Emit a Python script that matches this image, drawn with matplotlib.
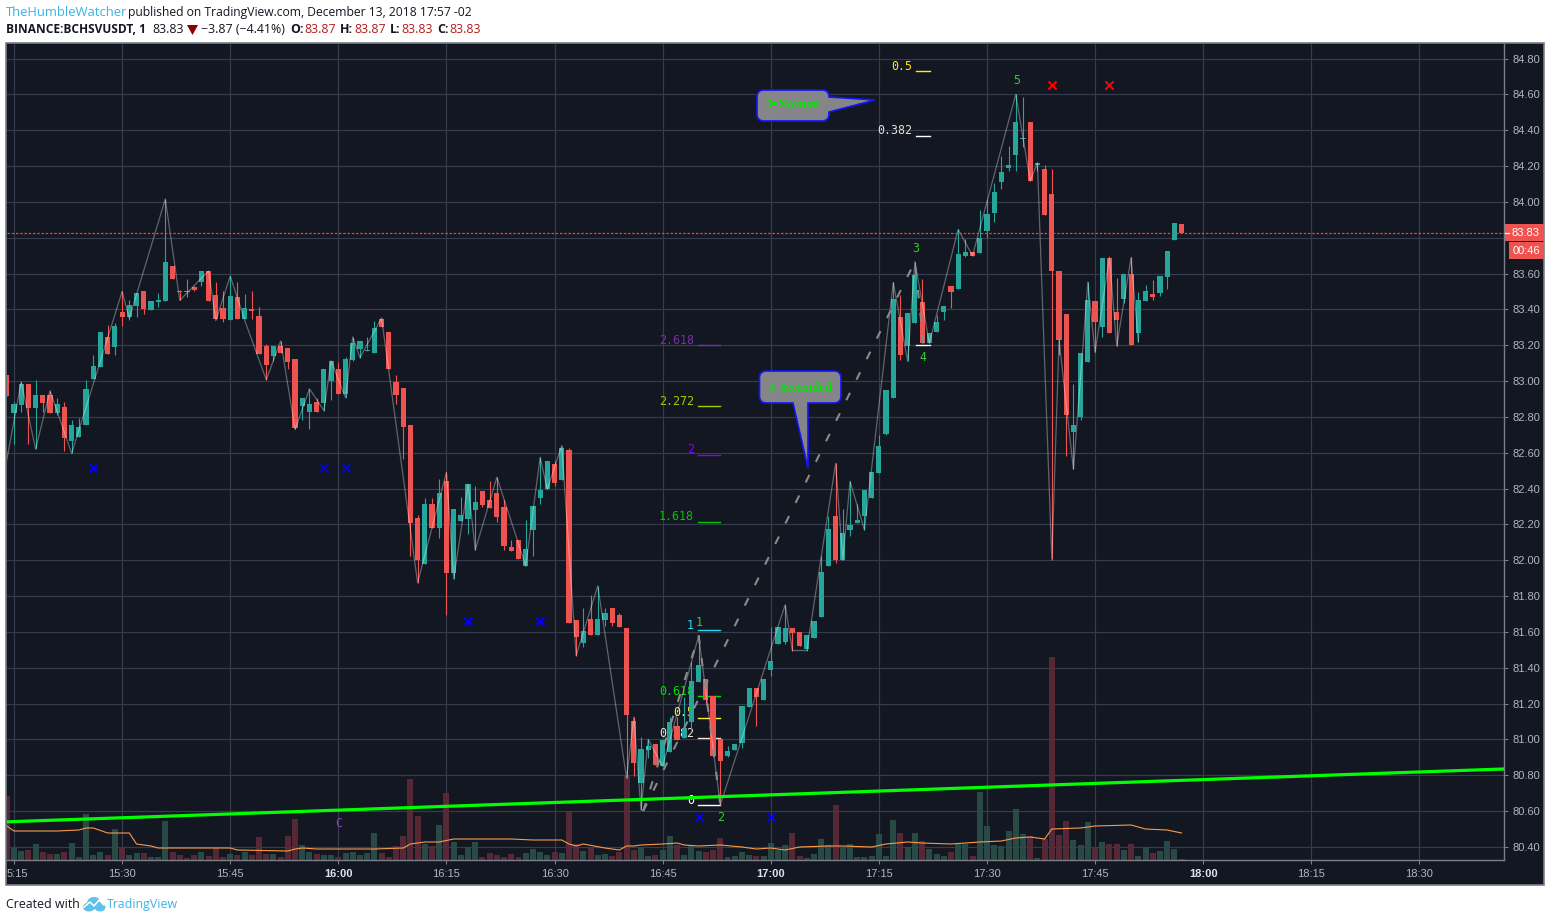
import matplotlib
matplotlib.use("Agg")
import matplotlib.pyplot as plt
from matplotlib.patches import Rectangle, PathPatch, Ellipse, Polygon
from matplotlib.path import Path
from matplotlib.lines import Line2D
from matplotlib.transforms import Affine2D, ScaledTranslation
import numpy as np

# ---------- data ----------
first_index = -1
opens = [83.035,82.824,82.868,82.985,82.85,82.92,82.92,82.824,82.857,82.663,82.69,82.752,83.013,83.08,83.246,83.19,83.385,83.357,83.42,83.5,83.396,83.44,83.446,83.642,83.50,83.50,83.525,83.55,83.615,83.48,83.41,83.34,83.47,83.346,83.40,83.363,83.196,83.14,83.196,83.185,83.124,82.863,82.83,82.885,82.88,83.0,83.07,82.93,83.12,83.18,83.168,83.157,83.346,83.274,82.996,82.96,82.752,82.235,81.98,82.313,82.18,82.44,81.93,82.218,82.23,82.28,82.385,82.335,82.374,82.296,82.074,82.113,81.968,82.168,82.346,82.396,82.535,82.446,82.613,81.668,81.54,81.674,81.58,81.668,81.735,81.696,81.624,81.102,80.757,80.94,80.974,80.852,80.93,81.074,81.007,81.096,81.32,81.335,81.24,81.0,80.907,80.94,80.98,81.18,81.285,81.218,81.385,81.535,81.546,81.624,81.602,81.507,81.568,81.685,81.968,82.246,82.0,82.17,82.207,82.246,82.346,82.485,82.707,82.907,83.357,83.196,83.324,83.44,83.21,83.274,83.385,83.53,83.513,83.70,83.718,83.713,83.84,83.94,84.113,84.19,84.263,84.352,84.446,84.205,84.185,84.046,83.613,83.374,82.713,82.80,83.107,83.446,83.30,83.685,83.385,83.457,83.60,83.27,83.446,83.485,83.49,83.58,83.785,83.874]
highs = [83.035,82.885,82.996,82.985,83.007,82.92,82.946,82.907,82.885,82.785,82.796,83.007,83.146,83.274,83.313,83.324,83.50,83.45,83.49,83.50,83.445,83.49,84.016,83.642,83.51,83.57,83.53,83.615,83.615,83.55,83.50,83.586,83.55,83.486,83.50,83.413,83.207,83.196,83.224,83.185,83.124,82.907,82.957,82.907,83.07,83.113,83.107,83.135,83.246,83.224,83.246,83.335,83.352,83.274,83.035,82.96,82.752,82.252,82.346,82.346,82.452,82.49,82.285,82.352,82.424,82.413,82.385,82.44,82.463,82.335,82.113,82.113,82.224,82.302,82.574,82.552,82.552,82.64,82.624,81.668,81.735,81.807,81.857,81.735,81.735,81.707,81.624,81.124,81.013,81.0,80.974,80.996,81.124,81.126,81.235,81.43,81.578,81.335,81.24,81.0,80.963,80.974,81.185,81.285,81.285,81.335,81.63,81.63,81.752,81.624,81.602,81.58,81.663,82.024,82.246,82.54,82.285,82.44,82.313,82.39,82.49,82.70,82.952,83.55,83.48,83.38,83.667,83.568,83.268,83.368,83.418,83.53,83.846,83.79,83.718,83.957,84.013,84.107,84.257,84.313,84.60,84.585,84.446,84.22,84.207,84.185,83.613,83.374,82.985,83.157,83.552,83.446,83.685,83.69,83.574,83.60,83.69,83.496,83.535,83.563,83.585,83.724,83.88,83.874]
lows = [82.915,82.646,82.83,82.646,82.62,82.83,82.824,82.81,82.607,82.596,82.69,82.752,83.013,83.08,83.152,83.146,83.307,83.34,83.36,83.374,83.396,83.415,83.446,83.57,83.45,83.47,83.505,83.53,83.448,83.345,83.33,83.34,83.346,83.346,83.346,83.152,83.007,83.113,83.157,83.07,82.73,82.785,82.73,82.83,82.835,82.896,82.93,82.907,83.113,83.13,83.168,83.157,83.30,83.068,82.87,82.563,82.024,81.874,81.98,82.18,82.124,81.696,81.896,82.218,82.146,82.057,82.296,82.29,82.213,82.057,82.052,82.007,81.968,82.024,82.313,82.396,82.413,82.446,81.652,81.468,81.518,81.58,81.58,81.635,81.635,81.63,80.783,80.796,80.607,80.896,80.857,80.852,80.93,80.996,81.007,81.05,81.32,81.19,80.907,80.635,80.90,80.94,80.952,81.18,81.074,81.218,81.352,81.535,81.53,81.496,81.524,81.496,81.568,81.685,81.968,81.985,82.0,82.135,82.207,82.17,82.346,82.485,82.70,82.907,83.118,83.11,83.324,83.21,83.21,83.274,83.34,83.407,83.513,83.69,83.70,83.713,83.796,83.885,84.07,84.174,84.174,84.307,84.118,84.17,83.924,82.005,83.146,82.58,82.507,82.78,83.107,83.16,83.246,83.268,83.194,83.435,83.20,83.22,83.446,83.452,83.474,83.513,83.785,83.824]
closes = [82.915,82.874,82.985,82.85,82.92,82.88,82.824,82.874,82.68,82.757,82.746,82.957,83.085,83.274,83.152,83.307,83.357,83.424,83.49,83.40,83.445,83.45,83.664,83.57,83.495,83.495,83.51,83.615,83.448,83.345,83.346,83.475,83.346,83.41,83.39,83.152,83.09,83.196,83.157,83.107,82.74,82.907,82.874,82.83,83.07,83.113,82.93,83.124,83.213,83.224,83.172,83.296,83.30,83.068,82.92,82.746,82.207,82.0,82.313,82.18,82.374,81.93,82.285,82.252,82.424,82.324,82.307,82.29,82.24,82.08,82.052,82.007,82.063,82.302,82.39,82.552,82.43,82.624,81.652,81.574,81.607,81.58,81.674,81.707,81.652,81.63,81.135,80.868,80.946,80.963,80.857,80.996,81.096,80.996,81.063,81.324,81.413,81.218,80.907,80.88,80.935,80.974,81.185,81.285,81.235,81.335,81.44,81.63,81.624,81.596,81.524,81.58,81.663,81.935,82.174,82.0,82.152,82.196,82.224,82.39,82.49,82.64,82.952,83.457,83.146,83.38,83.59,83.21,83.268,83.33,83.418,83.496,83.707,83.718,83.70,83.796,83.935,84.057,84.168,84.207,84.446,84.357,84.118,84.217,83.924,83.613,83.23,82.813,82.757,83.157,83.452,83.33,83.685,83.268,83.34,83.60,83.20,83.452,83.50,83.468,83.585,83.724,83.88,83.824]
volumes = [64,12,9,10,16,8,6,6,8,17,3,46,5,8,5,31,13,5,7,7,3,3,39,8,5,2,5,8,4,12,3,6,5,8,5,23,6,6,3,24,41,15,8,6,5,5,3,7,8,5,7,27,7,3,14,24,81,44,16,14,35,67,18,5,13,18,3,7,5,3,6,3,7,11,8,5,8,7,48,16,9,12,5,6,4,8,84,10,13,4,5,10,24,15,5,15,9,8,10,22,3,4,8,5,4,4,17,10,15,27,4,2,6,21,15,55,13,16,3,3,4,26,4,40,27,13,27,19,11,6,4,8,17,16,4,68,34,15,14,29,51,26,24,2,21,203,25,39,20,15,38,12,18,16,16,10,16,4,13,7,9,19,11,1]

vol_ma_x = [-1,0,6,9,10,11,13,16,17,19,20,30,31,38,39,40,42,50,54,55,57,59,61,63,69,72,75,76,77,78,79,82,84,85,86,87,90,92,93,95,98,101,103,105,107,109,113,115,119,121,124,126,130,132,134,137,139,141,143,144,148,150,155,157,160,162]
vol_ma_y = [34,29,29,30,32,32,27,27,16,14,12,12,10,9,11,12,11,11,12,16,18,18,21,21,21,20,20,20,16,14,16,12,10,14,14,15,16,17,15,14,15,13,11,12,10,13,14,14,13,16,18,17,16,17,18,19,22,23,21,31,32,34,35,31,30,27]

zigzag_x = [-1,1,3,5,8,15,16,21,23,27,28,30,32,35,37,39,41,43,44,46,47,48,51,56,60,61,63,64,67,71,73,74,76,78,81,85,86,87,88,90,95,98,107,108,110,114,115,116,118,122,124,125,127,131,133,139,141,142,144,145,147,149,150,152,153,155,156]
zigzag_y = [82.56,82.996,82.62,82.946,82.596,83.50,83.35,84.016,83.45,83.615,83.337,83.586,83.34,83.007,83.224,82.73,82.957,82.835,83.113,82.907,83.246,83.13,83.352,81.874,82.49,81.896,82.424,82.057,82.463,81.968,82.574,82.396,82.64,81.468,81.857,80.783,81.124,80.607,81.0,80.85,81.578,80.635,81.752,81.496,81.496,82.54,82.0,82.44,82.17,83.55,83.11,83.667,83.21,83.846,83.70,84.60,84.118,84.217,82.0,83.23,82.507,83.552,83.16,83.69,83.194,83.69,83.22]

wave_x = [87.3,95,98]
wave_y = [80.60,81.578,80.635]
wave3_x = [87.3,125,126.2]
wave3_y = [80.60,83.667,83.21]

blue_x = [11,43,46,63,73,95,105]
blue_y = [82.515,82.515,82.515,81.66,81.66,80.567,80.567]
red_x = [144,152]
red_y = [84.65,84.65]

wave_labels = ["1","2","3","4","5"]
wave_lab_x = [95.1,98.1,125.1,126.1,139.1]
wave_lab_y = [81.655,80.562,83.737,83.13,84.675]

fib_labels = ["0","0.382","0.5","0.618","1","1.618","2","2.272","2.618"]
fib_prices = [80.632,81.007,81.12,81.24,81.61,82.215,82.59,82.86,83.20]
fib_colors = ["#ffffff","#f0e8d0","#ffee33","#00e000","#22ddee","#00c800","#8a00f0","#9ad000","#7a30aa"]
fib2_labels = ["0.382","0.5"]
fib2_prices = [84.37,84.73]
fib2_colors = ["#e8e0d0","#ffee00"]
fib3_price = 83.20

trend_x = [-0.97,206.74]
trend_y = [80.54,80.835]
last_price = 83.828

price_ticks = [80.4,80.6,80.8,81.0,81.2,81.4,81.6,81.8,82.0,82.2,82.4,82.6,82.8,83.0,83.2,83.4,83.6,83.8,84.0,84.2,84.4,84.6,84.8]
hidden_price_label = 83.8   # covered by the last-price box in the picture
time_ticks = [0,15,30,45,60,75,90,105,120,135,150,165,180,195]
time_labels = ["5:15","15:30","15:45","16:00","16:15","16:30","16:45","17:00","17:15","17:30","17:45","18:00","18:15","18:30"]
bold_labels = ["16:00","17:00","18:00"]

# ---------- style ----------
BG = "#131722"; GRID = "#363c4e"; UP = "#26a69a"; DOWN = "#ef5350"
VUP = "#2b4c48"; VDN = "#5a2a37"; TICK = "#b2b5be"; EDGE = "#7c7f88"
W, H = 1551, 922
fig = plt.figure(figsize=(W/100, H/100), dpi=100, facecolor="white")
pxT = Affine2D().scale(1, -1).translate(0, H)   # pixel coordinates, origin at top left

L, R, T, B = 7, 1504, 44, 860
rect = [L/W, 1-B/H, (R-L)/W, (B-T)/H]
XLIM = (-0.971, 206.74); YLIM = (80.327, 84.881)

fig.add_artist(Rectangle((6, 43), 1538, 842, transform=pxT, fc=BG, ec=EDGE, lw=1.2, zorder=0))

axv = fig.add_axes(rect, zorder=1, facecolor=BG)
ax = fig.add_axes(rect, zorder=2, facecolor="none")
for a in (axv, ax):
    a.set_xlim(*XLIM)
axv.set_ylim(0, B-T)
ax.set_ylim(*YLIM)

idx = np.arange(first_index, first_index+len(opens))
opens, highs, lows, closes = map(np.array, (opens, highs, lows, closes))
up = closes >= opens

# grid + volume
for t in time_ticks:
    axv.axvline(t, color=GRID, lw=0.85, zorder=1)
axv.set_xticks([]); axv.set_yticks([])
for p in price_ticks:
    axv.axhline((p-YLIM[0])/(YLIM[1]-YLIM[0])*(B-T), color=GRID, lw=0.85, zorder=1)
for s in axv.spines.values():
    s.set_visible(False)
axv.bar(idx, volumes, width=0.83, color=[VUP if u else VDN for u in up], lw=0, alpha=0.95, zorder=2)
axv.plot(vol_ma_x, vol_ma_y, color="#f79a4a", lw=0.8, zorder=3)

# fib labels and levels (below candles)
mono = "DejaVu Sans Mono"
for lab, p, c in zip(fib_labels, fib_prices, fib_colors):
    ax.plot([94.9, 98.0], [p, p], color=c, lw=1.0, zorder=2.5)
    ax.annotate(lab, (94.9, p), xytext=(-2.8, 3.6), textcoords="offset points", ha="right", va="center",
                color=c, fontsize=8.4, family=mono, zorder=2.2)
for lab, p, c in zip(fib2_labels, fib2_prices, fib2_colors):
    ax.plot([125.1, 127.06], [p, p], color="#ffffff" if lab == "0.382" else c, lw=1.0, zorder=2.5)
    ax.annotate(lab, (125.1, p), xytext=(-2.4, 3.6), textcoords="offset points", ha="right", va="center",
                color=c, fontsize=8.4, family=mono, zorder=2.2)
ax.plot([125.1, 127.06], [fib3_price, fib3_price], color="#ffffff", lw=1.0, zorder=2.5)

# candles
wick = ax.vlines(idx, lows, highs, colors=[UP if u else DOWN for u in up], lw=0.8, zorder=3)
wick.set_snap(True)
ax.bar(idx, np.maximum(np.abs(closes-opens), 0.006), bottom=np.minimum(opens, closes), width=0.72,
       color=[UP if u else DOWN for u in up], lw=0, zorder=3.1)

# zigzag, dashed waves
ax.plot(zigzag_x, zigzag_y, color="#ffffff", alpha=0.33, lw=0.9, zorder=4)
for xs, ys in ((wave_x, wave_y), (wave3_x, wave3_y)):
    ax.plot(xs, ys, color="#8a8a8a", lw=1.5, ls=(0, (4, 7)), dash_capstyle="butt", zorder=4.1)

# trend + last price
ax.plot(trend_x, trend_y, color="#00ff00", lw=2.3, zorder=5)
ax.axhline(last_price, color="#ff3b3b", lw=0.9, ls=(0, (2.0, 1.4)), zorder=5)

# markers
ax.scatter(blue_x, blue_y, marker="x", s=34, color="#0000ff", lw=1.5, zorder=6)
ax.scatter(red_x, red_y, marker="x", s=34, color="#ff0000", lw=1.5, zorder=6)
for lab, x, y in zip(wave_labels, wave_lab_x, wave_lab_y):
    ax.text(x, y, lab, color="#33cc33", fontsize=8.4, family=mono, ha="center", va="center", zorder=6)
ax.text(45, 80.53, "C", color="#9933cc", fontsize=8.4, family=mono, ha="center", va="center", zorder=6)

# axes
ax.yaxis.tick_right()
ax.set_yticks(price_ticks)
ax.set_yticklabels(["" if p == hidden_price_label else f"{p:.2f}" for p in price_ticks],
                   family="Liberation Sans", fontsize=8, color=TICK)
ax.set_xticks(time_ticks)
ax.set_xticklabels(time_labels, family="Liberation Sans", fontsize=8, color=TICK)
ax.tick_params(axis="y", length=2.9, width=0.75, color=EDGE, pad=3.5)
ax.tick_params(axis="x", length=2.9, width=0.75, color=EDGE, pad=3.8)
for lb in ax.get_xticklabels():
    if lb.get_text() in bold_labels:
        lb.set_fontweight("bold"); lb.set_color("#e0e3eb")
    if lb.get_text() == "5:15":
        lb.set_ha("left")
        lb.set_transform(lb.get_transform() + ScaledTranslation(-7.5/100, 0, fig.dpi_scale_trans))
for k, s in ax.spines.items():
    s.set_visible(k in ("right", "bottom"))
    s.set_color(EDGE); s.set_linewidth(1.0)

# price boxes
fig.add_artist(Rectangle((1505, 224), 39, 17, transform=pxT, fc=DOWN, ec="none", zorder=8))
fig.add_artist(Rectangle((1509, 242), 35, 17, transform=pxT, fc=DOWN, ec="none", zorder=8))
fig.add_artist(Line2D([1505, 1509], [232.5, 232.5], transform=pxT, color="white", lw=0.9, zorder=9))
fig.text(1525.5, 232.5, "83.83", transform=pxT, color="white", fontsize=8, family="Liberation Sans", ha="center", va="center", zorder=9)
fig.text(1526.5, 250.5, "00:46", transform=pxT, color="white", fontsize=8, family="Liberation Sans", ha="center", va="center", zorder=9)

# callouts
def callout(x0, y0, x1, y1, ptr, r=7):
    """rounded box plus pointer, ptr=(side, a, b, tipx, tipy)"""
    side, a, b, tx, ty = ptr
    M, LT, C = Path.MOVETO, Path.LINETO, Path.CURVE3
    v = [(x0+r, y0)]; c = [M]
    v += [(x1-r, y0), (x1, y0), (x1, y0+r)]; c += [LT, C, C]
    if side == "right":
        v += [(x1, a), (tx, ty), (x1, b)]; c += [LT, LT, LT]
    v += [(x1, y1-r), (x1, y1), (x1-r, y1)]; c += [LT, C, C]
    if side == "bottom":
        v += [(b, y1), (tx, ty), (a, y1)]; c += [LT, LT, LT]
    v += [(x0+r, y1), (x0, y1), (x0, y1-r)]; c += [LT, C, C]
    v += [(x0, y0+r), (x0, y0), (x0+r, y0), (x0+r, y0)]; c += [LT, C, C, Path.CLOSEPOLY]
    fig.add_artist(PathPatch(Path(v, c), transform=pxT, fc=(0.55, 0.55, 0.56, 0.95), ec="#1414ff", lw=1.2, zorder=7))

callout(757, 90, 829, 121, ("right", 97, 112, 875, 100))
callout(759.5, 371, 841, 403, ("bottom", 793, 808, 808, 468))
for x, y, s in ((793, 105, "5=Normal"), (800, 387.5, "3=Extended")):
    fig.text(x, y, s, transform=pxT, color="#00e800", fontsize=8.9, family="Liberation Serif", weight="bold",
             ha="center", va="center", zorder=8)

# header
SANS = "Open Sans"
def label(x, y, s, color="#131722", bold=False, size=8.9):
    fig.text(x, y, s, transform=pxT, color=color, fontsize=size, family=SANS, weight="bold" if bold else "normal",
             ha="left", va="center", zorder=9)
label(6, 12.5, "TheHumbleWatcher", "#3bb3e4", size=9.4)
label(128, 12.5, "published on TradingView.com, December 13, 2018 17:57 -02", size=8.75)
label(6, 29.5, "BINANCE:BCHSVUSDT, 1", bold=True, size=8.6)
label(152, 29.5, "83.83")
fig.add_artist(Polygon([(187, 25), (198, 25), (192.5, 35)], closed=True, transform=pxT, fc="#8b0000", ec="none", zorder=9))
label(201, 29.5, "\u22123.87 (\u22124.41%)")
RED = "#b71c1c"
for x, s in ((290, "O:"), (340, "H:"), (390, "L:"), (437, "C:")):
    label(x, 29.5, s, bold=True)
for x, s in ((304, "83.87"), (354, "83.87"), (401, "83.83"), (449, "83.83")):
    label(x, 29.5, s, RED)

# footer
label(6, 904.5, "Created with")
LOGO = "#5fc0ea"
for cx, cy, w, h in ((89, 907, 12, 9), (94, 903, 14, 12), (100, 907, 11, 9)):
    fig.add_artist(Ellipse((cx, cy), w, h, transform=pxT, fc=LOGO, ec="none", zorder=9))
fig.add_artist(Line2D([84, 90, 94, 99, 104], [907, 902, 906, 900, 905], transform=pxT, color="white", lw=1.1, zorder=10))
label(107, 904.5, "TradingView", "#3bb3e4")

fig.savefig("out.png", dpi=100, facecolor="white")
